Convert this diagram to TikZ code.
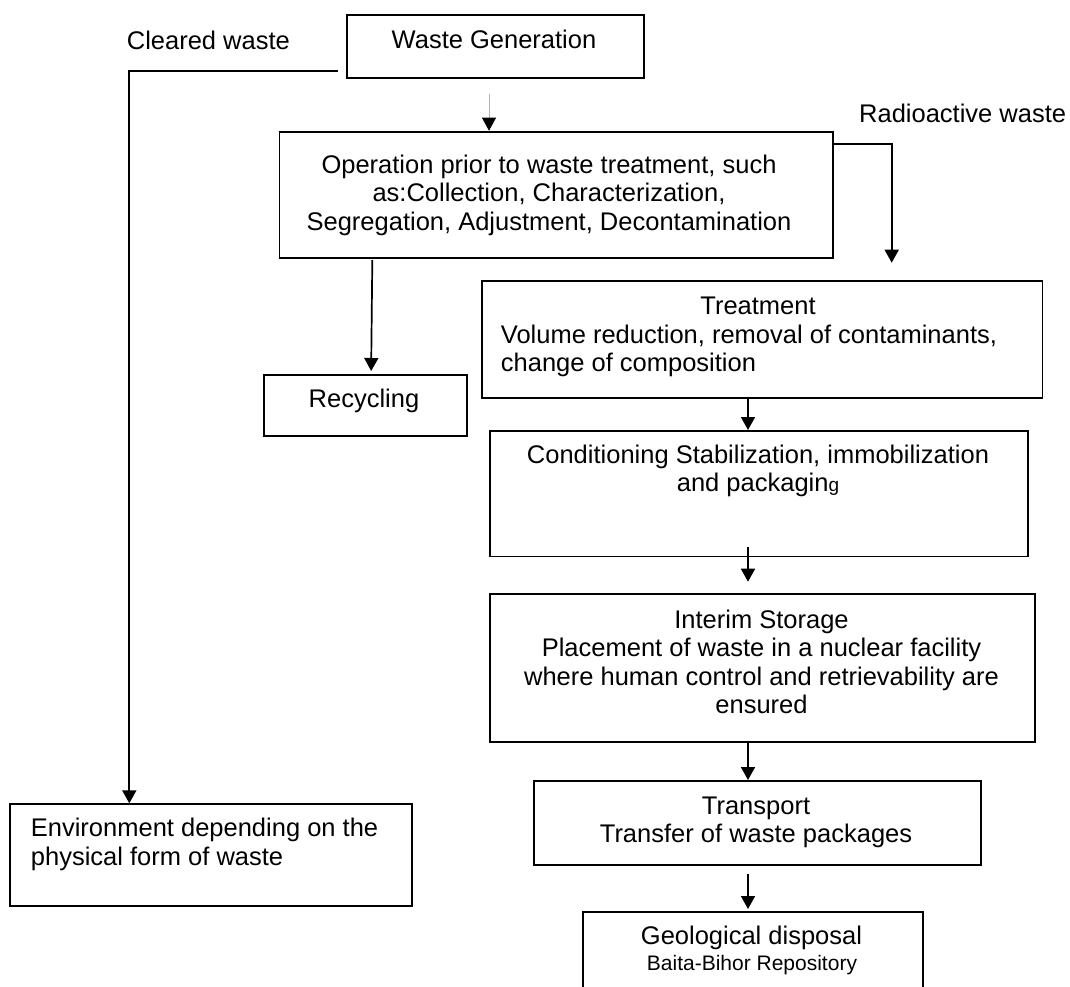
\documentclass[tikz,border=0pt]{standalone}
\usepackage{fontspec}
\setmainfont{Liberation Sans}
\usetikzlibrary{arrows.meta,calc}
\newcommand{\bigfont}{\fontsize{25.5}{28.5}\selectfont}
\newcommand{\smallfont}{\fontsize{21}{24}\selectfont}
\begin{document}
\begin{tikzpicture}[x=1pt,y=-1pt,
  wbox/.style={draw=black,line width=1.9pt,rectangle,inner sep=0pt,anchor=north west},
  lbl/.style={inner sep=0pt,font=\bigfont,text=black},
  arr/.style={draw=black,line width=1.7pt,-{Triangle[width=14pt,length=13pt]}},
  garr/.style={draw=black!30,line width=0.8pt,-{Triangle[width=14pt,length=13pt,color=black]}}]
\fill[white] (0,0) rectangle (1070,987);
\useasboundingbox (0,0) rectangle (1070,987);
\clip (0,0) rectangle (1070,987);

% boxes
\node[wbox,minimum width=297.3pt,minimum height=63pt] (wg) at (345.7,14) {};
\node[wbox,minimum width=553.2pt,minimum height=126.5pt] (op) at (278.5,130.7) {};
\node[wbox,minimum width=203pt,minimum height=61pt] (rec) at (262.7,374) {};
\node[wbox,minimum width=560.5pt,minimum height=116.7pt] (trt) at (481,280) {};
\node[wbox,minimum width=538.6pt,minimum height=125.5pt] (cond) at (488.8,430) {};
\node[wbox,minimum width=544.4pt,minimum height=147.4pt] (int) at (489.4,593.3) {};
\node[wbox,minimum width=447.3pt,minimum height=84.3pt] (tr) at (532.7,780) {};
\node[wbox,minimum width=339.7pt,minimum height=100pt] (geo) at (582.3,910.7) {};
\node[wbox,minimum width=401.7pt,minimum height=101.7pt] (env) at (9.3,803.3) {};

% texts
\node[lbl,anchor=base] (t-wg) at (494,49) {Waste Generation};
\node[lbl,anchor=base west] (t-cw) at (126.7,50) {Cleared waste};
\node[lbl,anchor=base west] (t-rw) at (859,122.7) {Radioactive waste};
\node[lbl,anchor=base] (t-op) at (549,173.3) {\begin{tabular}[t]{@{}c@{}}Operation prior to waste treatment, such\\as:Collection, Characterization,\\Segregation, Adjustment, Decontamination\end{tabular}};
\node[lbl,anchor=base] (t-rec) at (364,407.3) {Recycling};
\node[lbl,anchor=base] (t-trt) at (758,314.8) {Treatment};
\node[lbl,anchor=base west] (t-trt2) at (500.7,343.3) {\begin{tabular}[t]{@{}l@{}}Volume reduction, removal of contaminants,\\change of composition\end{tabular}};
\node[lbl,anchor=base] (t-cond) at (758,463.3) {\begin{tabular}[t]{@{}c@{}}Conditioning Stabilization, immobilization\\and packagin{\fontsize{19}{22}\selectfont g}\end{tabular}};
\node[lbl,anchor=base] (t-int) at (761.5,628.3) {\begin{tabular}[t]{@{}c@{}}Interim Storage\\Placement of waste in a nuclear facility\\where human control and retrievability are\\ensured\end{tabular}};
\node[lbl,anchor=base] (t-tr) at (756,814) {\begin{tabular}[t]{@{}c@{}}Transport\\Transfer of waste packages\end{tabular}};
\node[lbl,anchor=base] (t-geo) at (751.5,944) {Geological disposal};
\node[lbl,anchor=base,font=\smallfont] (t-geo2) at (752,970) {Baita-Bihor Repository};
\node[lbl,anchor=base west] (t-env) at (30.7,836.7) {\begin{tabular}[t]{@{}l@{}}Environment depending on the\\physical form of waste\end{tabular}};

% connector helper coordinates
\coordinate (ax) at (748,0);
\coordinate (c1) at (337.7,71);
\coordinate (c2) at (129.3,71);
\coordinate (g1) at (489,94);
\coordinate (r1) at (372.3,260);
\coordinate (ra) at (891.7,262.7);

% connectors
\draw[arr] (c1) -- (c2) -- (c2 |- env.north);
\draw[garr] (g1) -- (g1 |- op.north);
\draw[arr] (r1) -- ([xshift=6pt,yshift=3pt]rec.north);
\draw[arr] ([yshift=-13.6pt]op.north east) -| (ra);
\draw[arr] (trt.south -| ax) -- (cond.north -| ax);
\draw[arr] ([yshift=10.5pt]cond.south -| ax) -- ([yshift=11.6pt]int.north -| ax);
\draw[arr] (int.south -| ax) -- (tr.north -| ax);
\draw[arr] ([yshift=-7.4pt]tr.south -| ax) -- ([yshift=1.7pt]geo.north -| ax);
\end{tikzpicture}
\end{document}
